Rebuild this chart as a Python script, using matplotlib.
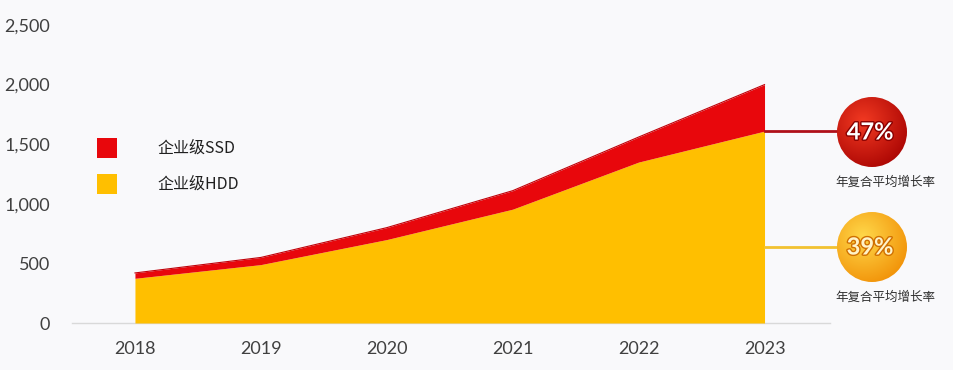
import matplotlib
matplotlib.use("Agg")
import matplotlib.pyplot as plt
import numpy as np
from matplotlib.colors import LinearSegmentedColormap
from matplotlib.patches import Circle, Rectangle
import matplotlib.patheffects as pe

# data
years = [2018, 2019, 2020, 2021, 2022, 2023]
hdd = [375, 490, 700, 955, 1350, 1610]
ssd = [45, 60, 100, 155, 210, 390]
y_ticks = [0, 500, 1000, 1500, 2000, 2500]
series_names = ["企业级SSD", "企业级HDD"]
cagr_labels = ["47%", "39%"]
cagr_caption = "年复合平均增长率"

RED = "#e8070c"
YELLOW = "#ffbf00"
BG = "#f9f9fb"
CJK = ["Noto Sans CJK SC", "DejaVu Sans"]

fig = plt.figure(figsize=(9.54, 3.70), dpi=100, facecolor=BG)
ax = fig.add_axes([72 / 954, 47 / 370, (830 - 72) / 954, (323 - 25) / 370])
ax.set_facecolor(BG)

total = [h + s for h, s in zip(hdd, ssd)]
ax.fill_between(years, 0, hdd, color=YELLOW, linewidth=0)
ax.fill_between(years, hdd, total, color=RED, linewidth=0)
ax.plot(years, total, color="#c00008", linewidth=0.8)

ax.set_xlim(2017.5, 2023.52)
ax.set_ylim(0, 2500)
ax.set_xticks(years)
ax.set_xticklabels([str(y) for y in years])
ax.set_yticks(y_ticks)
ax.set_yticklabels([f"{v:,}" for v in y_ticks])
ax.tick_params(length=0, labelsize=13, labelcolor="#404040")
ax.tick_params(axis="y", pad=16)
ax.tick_params(axis="x", pad=13)
for lab in ax.get_xticklabels() + ax.get_yticklabels():
    lab.set_family("Lato")
for side in ["top", "right", "left"]:
    ax.spines[side].set_visible(False)
ax.spines["bottom"].set_color("#d9d9d9")
ax.spines["bottom"].set_linewidth(1.0)
ax.spines["bottom"].set_zorder(0)

# overlay in pixel coordinates for legend and CAGR badges
ov = fig.add_axes([0, 0, 1, 1], facecolor="none")
ov.set_xlim(0, 954)
ov.set_ylim(370, 0)
ov.axis("off")

# legend
for i, (name, col) in enumerate(zip(series_names, [RED, YELLOW])):
    y0 = 138 + i * 36
    ov.add_patch(Rectangle((97, y0), 20, 20, facecolor=col, edgecolor="none"))
    ov.text(157, y0 + 10, name, family=CJK, fontsize=11.5, color="#202020",
            va="center", ha="left")


def badge(cx, cy, r, c_light, c_dark, label, txt_color, stroke):
    cmap = LinearSegmentedColormap.from_list("g", [c_light, c_dark])
    xs = np.linspace(cx - r, cx + r, 200)
    ys = np.linspace(cy - r, cy + r, 200)
    gx, gy = np.meshgrid(xs, ys)
    d = np.hypot(gx - (cx - 0.25 * r), gy - (cy - 0.3 * r)) / (1.6 * r)
    im = ov.imshow(d, extent=(cx - r, cx + r, cy + r, cy - r), cmap=cmap,
                   vmin=0, vmax=1, origin="upper", aspect="auto", zorder=3)
    circ = Circle((cx, cy), r, transform=ov.transData, facecolor="none",
                  edgecolor="none")
    ov.add_patch(circ)
    im.set_clip_path(circ)
    ov.text(cx - 2, cy, label, family="Lato", fontweight="bold", fontsize=17,
            color=txt_color, ha="center", va="center", zorder=5,
            path_effects=[pe.withStroke(linewidth=2, foreground=stroke)])
    ov.text(cx + 13, cy + 50, cagr_caption, family=CJK, fontsize=9,
            color="#303030", ha="center", va="center", zorder=5)


# connector lines from last point to the badges
disp = ax.transData.transform([(2023, total[-1]), (2023, hdd[-1])])
pix = ov.transData.inverted().transform(disp)
ov.plot([pix[0][0], 840], [131, 131], color="#b0101a", linewidth=2, zorder=2)
ov.plot([pix[1][0], 840], [247, 247], color="#f2c230", linewidth=2, zorder=2)

badge(872, 132, 35, "#f23a22", "#a30000", cagr_labels[0], "white", "#8a0000")
badge(872, 247, 35, "#ffd84a", "#f08a00", cagr_labels[1], "#fff3c8", "#d07000")

fig.savefig("out.png", dpi=100, facecolor=BG)
